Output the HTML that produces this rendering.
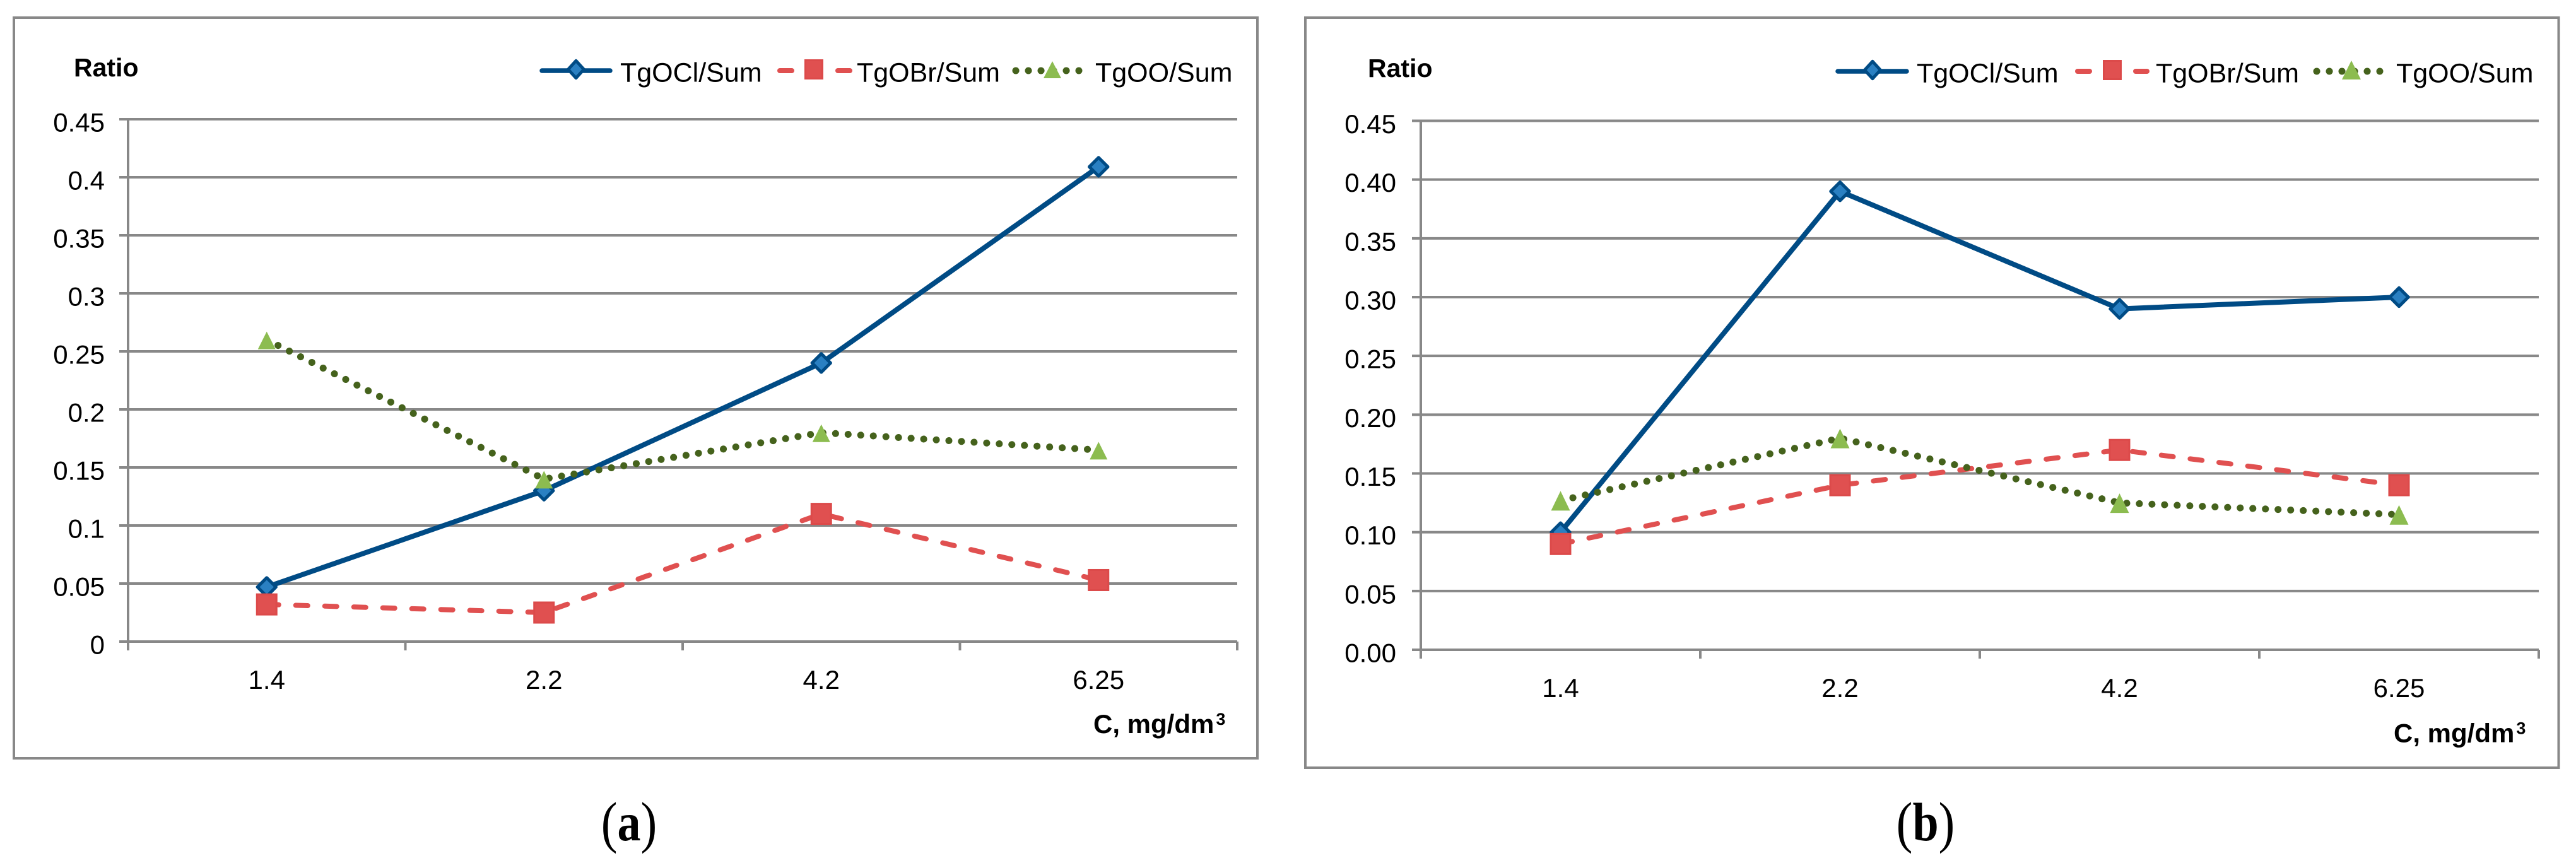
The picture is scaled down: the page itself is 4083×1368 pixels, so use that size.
<!DOCTYPE html>
<html lang="en">
<head>
<meta charset="utf-8">
<title>Ratio vs concentration charts</title>
<style>
html,body{margin:0;padding:0;background:#fff;width:4083px;height:1368px;overflow:hidden}
svg{display:block}
text{font-family:"Liberation Sans",sans-serif;fill:#000}
.cap{font-family:"Liberation Serif",serif}
</style>
</head>
<body>
<svg id="figure" xmlns="http://www.w3.org/2000/svg" width="4083" height="1368" viewBox="0 0 4083 1368"></svg>
<script>
const categories = ['1.4', '2.2', '4.2', '6.25'];
const yTickValues = [0, 0.05, 0.1, 0.15, 0.2, 0.25, 0.3, 0.35, 0.4, 0.45];
const yTickLabelsA = ['0', '0.05', '0.1', '0.15', '0.2', '0.25', '0.3', '0.35', '0.4', '0.45'];
const yTickLabelsB = ['0.00', '0.05', '0.10', '0.15', '0.20', '0.25', '0.30', '0.35', '0.40', '0.45'];
const seriesNames = ['TgOCl/Sum', 'TgOBr/Sum', 'TgOO/Sum'];
const tgoclA = [0.047, 0.13, 0.24, 0.409];
const tgobrA = [0.032, 0.025, 0.11, 0.053];
const tgooA = [0.26, 0.14, 0.18, 0.165];
const tgoclB = [0.10, 0.39, 0.29, 0.30];
const tgobrB = [0.09, 0.14, 0.17, 0.14];
const tgooB = [0.127, 0.18, 0.125, 0.115];

const NS = 'http://www.w3.org/2000/svg';
const GRID = '#888888', BLUE = '#004b85', DIAMOND = '#2a80c2', RED = '#e05050', REDEDGE = '#dc4a4a', GREEN = '#45621c', TRI = '#8cbc50';
const root = document.getElementById('figure');

function mk(parent, tag, attrs, txt) {
  const e = document.createElementNS(NS, tag);
  for (const k in attrs) e.setAttribute(k, attrs[k]);
  if (txt !== undefined) e.textContent = txt;
  parent.appendChild(e);
  return e;
}
function seriesLine(g, pts, kind, blueW) {
  const d = pts.map(p => p[0].toFixed(1) + ',' + p[1].toFixed(1)).join(' ');
  let a = {points: d, fill: 'none', 'stroke-linejoin': 'round'};
  if (kind === 0) { a.stroke = BLUE; a['stroke-width'] = blueW; a['stroke-linecap'] = 'round'; }
  if (kind === 1) { a.stroke = RED; a['stroke-width'] = 8; a['stroke-linecap'] = 'round'; a['stroke-dasharray'] = '19 27'; }
  if (kind === 2) { a.stroke = GREEN; a['stroke-width'] = 11; a['stroke-linecap'] = 'round'; a['stroke-dasharray'] = '0.1 19.9'; }
  return mk(g, 'polyline', a);
}
function marker(g, x, y, kind, s) {
  if (kind === 0) {
    return mk(g, 'polygon', {points: `${x},${y-s.dh} ${x+s.dw},${y} ${x},${y+s.dh} ${x-s.dw},${y}`, fill: DIAMOND, stroke: BLUE, 'stroke-width': 5, 'stroke-linejoin': 'round'});
  }
  if (kind === 1) {
    return mk(g, 'rect', {x: x - s.sw + 1.5, y: y - s.sh + 1.5, width: 2 * s.sw - 3, height: 2 * s.sh - 3, fill: RED, stroke: REDEDGE, 'stroke-width': 3});
  }
  return mk(g, 'polygon', {points: `${x},${y-s.tt} ${x+s.tw},${y+s.tb} ${x-s.tw},${y+s.tb}`, fill: TRI});
}
function drawChart(c) {
  const g = mk(root, 'g', {});
  
  

  const frame = mk(g, 'rect', {x: c.fx0, y: c.fy0, width: c.fx1 - c.fx0, height: c.fy1 - c.fy0, fill: '#fff', stroke: GRID, 'stroke-width': 4});
  
  

  const yPos = v => c.y0 - (v / 0.45) * (c.y0 - c.y45);
  const band = (c.x1 - c.x0) / categories.length;
  const xPos = i => c.x0 + band * (i + 0.5);

  yTickValues.forEach((v, i) => {
    const y = yPos(v);
    const line = mk(g, 'line', {x1: c.x0 - 14, x2: c.x1, y1: y, y2: y, stroke: GRID, 'stroke-width': 4});
    
    
    const t = mk(g, 'text', {x: c.labelX, y: y + 19.5, 'text-anchor': 'end', 'font-size': 42}, c.yLabels[i]);
    
    
  });

  const axis = mk(g, 'line', {x1: c.x0, x2: c.x0, y1: c.y45, y2: c.y0 + 14, stroke: GRID, 'stroke-width': 4});
  
  

  for (let i = 0; i <= categories.length; i++) {
    const x = c.x0 + band * i;
    const tick = mk(g, 'line', {x1: x, x2: x, y1: c.y0, y2: c.y0 + 14, stroke: GRID, 'stroke-width': 4});
    
    
  }
  categories.forEach((cat, i) => {
    const t = mk(g, 'text', {x: xPos(i), y: c.y0 + 75, 'text-anchor': 'middle', 'font-size': 42}, cat);
    
    
  });

  const yTitle = mk(g, 'text', {x: c.ratioX, y: c.ratioY, 'font-size': 41, 'font-weight': 'bold'}, 'Ratio');
  
  

  const xTitle = mk(g, 'text', {x: c.xTitleX, y: c.xTitleY, 'font-size': 42, 'font-weight': 'bold'}, 'C, mg/dm');
  
  
  mk(xTitle, 'tspan', {dx: 3, dy: -13, 'font-size': 27}, '3');

  c.series.forEach((vals, k) => {
    const sg = mk(g, 'g', {});
    
    
    const pts = vals.map((v, i) => [xPos(i), yPos(v)]);
    const ln = seriesLine(sg, pts, k, 8);
    
    
    pts.forEach(p => {
      const m = marker(sg, p[0], p[1], k, {dw: 14.7, dh: 14.7, sw: 17, sh: 17.5, tw: c.triW, tt: c.triT, tb: c.triB});
      
      
    });
  });

  c.legend.forEach((l, k) => {
    const lg = mk(g, 'g', {});
    
    
    seriesLine(lg, [[l.a, c.legY], [l.b, c.legY]], k, 7.5);
    marker(lg, l.m, c.legY - 2, k, {dw: 12.5, dh: 13.7, sw: 15, sh: 16, tw: c.triW, tt: c.triT, tb: c.triB - 1});
    mk(lg, 'text', {x: l.t, y: c.legY + 17.5, 'font-size': 43}, seriesNames[k]);
  });

  const cap = mk(g, 'text', {transform: `translate(${c.capX},1332) scale(0.86,1)`, x: 0, y: 0, 'text-anchor': 'middle', 'font-size': 90, class: 'cap'});
  
  
  mk(cap, 'tspan', {dy: 2}, '(');
  mk(cap, 'tspan', {dy: -2, 'font-weight': 'bold', 'font-size': 86}, c.capLetter);
  mk(cap, 'tspan', {dy: 2}, ')');
}

drawChart({
  name: 'chart-a', fx0: 22, fx1: 1993, fy0: 28, fy1: 1202,
  x0: 203, x1: 1961, y0: 1017, y45: 189, labelX: 166,
  yLabels: yTickLabelsA, series: [tgoclA, tgobrA, tgooA],
  ratioX: 117, ratioY: 121, xTitleX: 1733, xTitleY: 1162,
  legY: 112, triW: 14, triT: 13, triB: 15,
  legend: [{a: 859, b: 967, m: 913, t: 983}, {a: 1236, b: 1347, m: 1290, t: 1358}, {a: 1610, b: 1710, m: 1668, t: 1736}],
  capX: 997, capLetter: 'a'
});
drawChart({
  name: 'chart-b', fx0: 2069, fx1: 4055.5, fy0: 28, fy1: 1217,
  x0: 2252, x1: 4024, y0: 1030, y45: 191.5, labelX: 2213,
  yLabels: yTickLabelsB, series: [tgoclB, tgobrB, tgooB],
  ratioX: 2168, ratioY: 122, xTitleX: 3794, xTitleY: 1176.5,
  legY: 113, triW: 15, triT: 15, triB: 16,
  legend: [{a: 2913, b: 3022, m: 2968, t: 3038}, {a: 3293, b: 3403, m: 3348, t: 3417}, {a: 3672, b: 3772, m: 3727, t: 3798}],
  capX: 3052, capLetter: 'b'
});
</script>
</body>
</html>
